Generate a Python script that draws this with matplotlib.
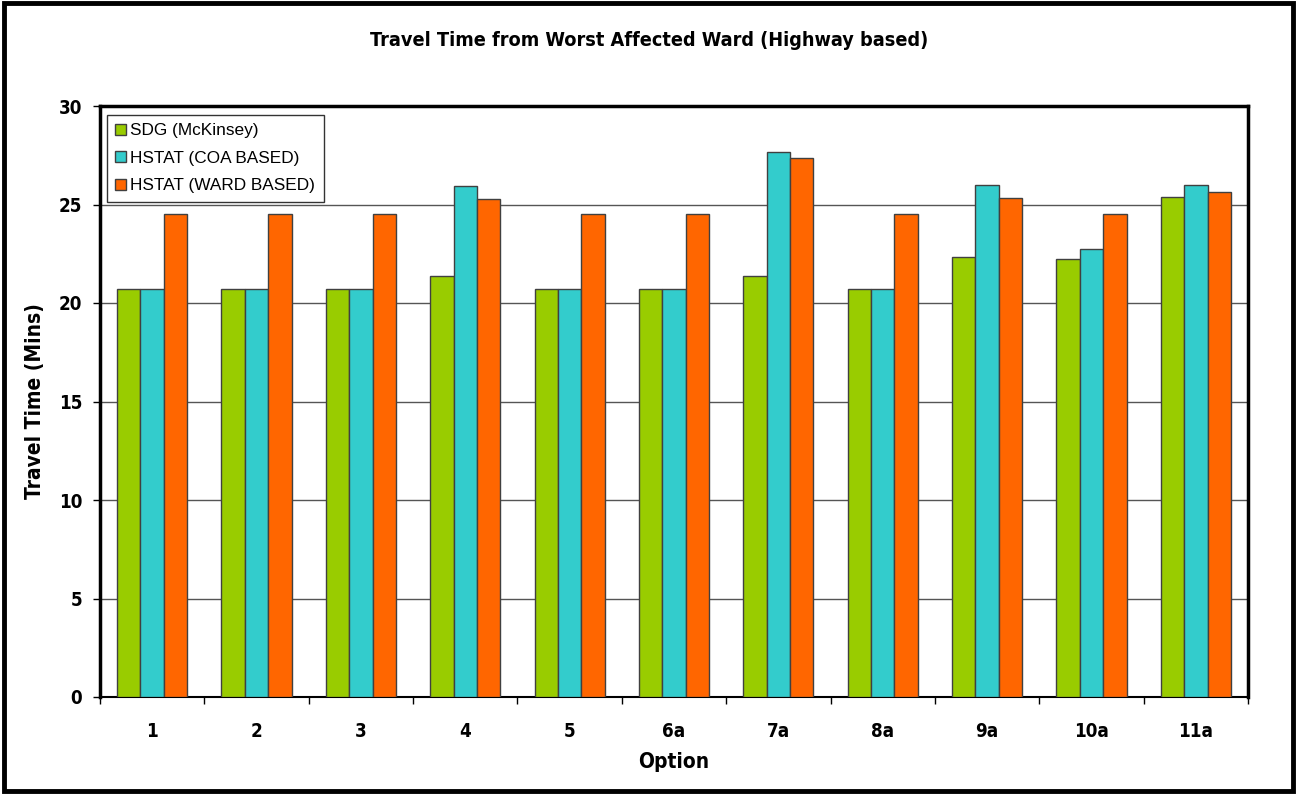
import matplotlib.pyplot as plt
import numpy as np
from matplotlib.patches import Rectangle

options = ['1', '2', '3', '4', '5', '6a', '7a', '8a', '9a', '10a', '11a']
sdg_mckinsey = [20.7, 20.7, 20.7, 21.35, 20.7, 20.7, 21.35, 20.7, 22.33, 22.23, 25.38]
hstat_coa = [20.7, 20.7, 20.7, 25.95, 20.7, 20.7, 27.64, 20.7, 25.97, 22.72, 25.97]
hstat_ward = [24.5, 24.5, 24.5, 25.3, 24.5, 24.5, 27.38, 24.5, 25.32, 24.5, 25.65]

series_names = ['SDG (McKinsey)', 'HSTAT (COA BASED)', 'HSTAT (WARD BASED)']
colors = ['#99CC00', '#33CCCC', '#FF6600']

# narrow bold face for titles and ticks, plain sans for the legend
plt.rcParams['font.family'] = ['DejaVu Sans']
bold = dict(family='DejaVu Sans', fontweight='bold', fontstretch='condensed')

fig = plt.figure(figsize=(12.98, 7.94), dpi=100)
ax = fig.add_axes([100 / 1298, 97 / 794, 1148 / 1298, 591 / 794])

x = np.arange(len(options))
width = 0.224
for i, (vals, name, col) in enumerate(zip([sdg_mckinsey, hstat_coa, hstat_ward], series_names, colors)):
    ax.bar(x + (i - 1) * width, vals, width, label=name, color=col,
           edgecolor='#404040', linewidth=1.0, zorder=3)

ax.set_xlim(-0.5, len(options) - 0.5)
ax.set_ylim(0, 30)
ax.set_yticks(np.arange(0, 31, 5))
ax.set_xticks(x)
ax.set_xticklabels(options, fontsize=13.5, **bold)
ax.set_yticklabels([str(v) for v in range(0, 31, 5)], fontsize=13.5, **bold)
ax.set_xticks(np.arange(-0.5, len(options), 1), minor=True)
ax.tick_params(axis='x', which='major', length=0, pad=18)
ax.tick_params(axis='x', which='minor', length=5, width=1, direction='out')
ax.tick_params(axis='y', length=5, width=1, direction='out', pad=8)

ax.grid(axis='y', color='#555555', linewidth=1.0, zorder=0)
for side in ['left', 'top', 'right']:
    ax.spines[side].set_linewidth(2.5)
    ax.spines[side].set_color('black')
ax.spines['bottom'].set_linewidth(1.5)

ax.set_xlabel('Option', fontsize=15, labelpad=8, **bold)
ax.set_ylabel('Travel Time (Mins)', fontsize=15, labelpad=10, **bold)
fig.text(0.5, 1 - 41 / 794, 'Travel Time from Worst Affected Ward (Highway based)',
         ha='center', va='center', fontsize=14.2, **bold)

leg = ax.legend(loc='upper left', bbox_to_anchor=(0.006, 0.985), fancybox=False,
                edgecolor='#333333', framealpha=1, handlelength=0.6, handleheight=0.6,
                handletextpad=0.25, labelspacing=0.72, borderpad=0.5, borderaxespad=0,
                prop={'family': ['Liberation Sans', 'DejaVu Sans'], 'size': 12.4})
leg.get_frame().set_linewidth(1.0)

# black frame around the whole figure
fig.patches.append(Rectangle((0.003, 0.004), 0.993, 0.992, transform=fig.transFigure,
                             fill=False, edgecolor='black', linewidth=3.5))

fig.savefig('out.png', dpi=100)
